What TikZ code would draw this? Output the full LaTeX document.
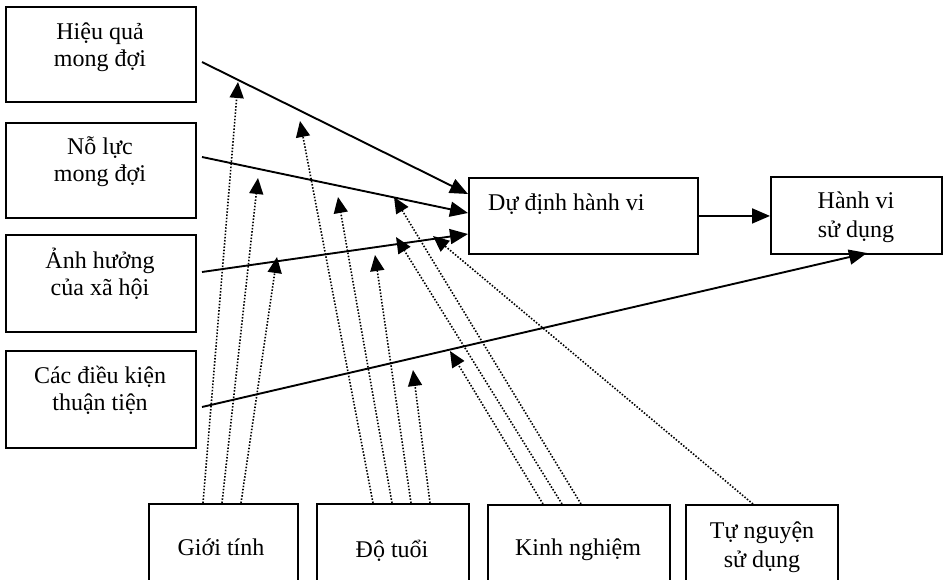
\documentclass[tikz,border=0pt]{standalone}
\usepackage{fontspec}
\setmainfont{Liberation Serif}
\usetikzlibrary{arrows.meta}
\begin{document}
\begin{tikzpicture}[x=1pt,y=-1pt,
  box/.style={draw,line width=1.9pt,inner sep=0pt,anchor=north west},
  lbl/.style={anchor=base,inner sep=0pt,font=\fontsize{24}{28}\selectfont},
  solidarr/.style={line width=1.9pt,-{Triangle[length=18pt,width=15pt]}},
  dotarr/.style={line width=1.6pt,dash pattern=on 1.5pt off 1.7pt,
                 -{Triangle[length=16pt,width=14pt]}}]
\useasboundingbox (0,0) rectangle (944,580);
\clip (0,0) rectangle (944,580);

% left column of determinants
\node[box,minimum width=190pt,minimum height=95pt] (pe) at (5,6) {};
\node[box,minimum width=190pt,minimum height=95pt] (ee) at (5,122) {};
\node[box,minimum width=190pt,minimum height=97pt] (si) at (5,234) {};
\node[box,minimum width=190pt,minimum height=97pt] (fc) at (5,350) {};
\node[lbl] (pe1) at (100,40) {Hiệu quả};
\node[lbl] (pe2) at (100,67) {mong đợi};
\node[lbl] (ee1) at (100,155) {Nỗ lực};
\node[lbl] (ee2) at (100,182) {mong đợi};
\node[lbl] (si1) at (100,268) {Ảnh hưởng};
\node[lbl] (si2) at (100,295) {của xã hội};
\node[lbl] (fc1) at (100,383) {Các điều kiện};
\node[lbl] (fc2) at (100,410) {thuận tiện};

% intention and use behaviour
\node[box,minimum width=229pt,minimum height=76pt] (bi) at (468,177) {};
\node[lbl,anchor=base west] (bit) at (488,210) {Dự định hành vi};
\node[box,minimum width=171pt,minimum height=77pt] (ub) at (770,176) {};
\node[lbl] (ub1) at (856,208) {Hành vi};
\node[lbl] (ub2) at (856,237) {sử dụng};

% moderators along the bottom (open towards the page edge)
\node[box,minimum width=149pt,minimum height=120pt] (gd) at (148,503) {};
\node[box,minimum width=152pt,minimum height=120pt] (ag) at (316,503) {};
\node[box,minimum width=182pt,minimum height=120pt] (ex) at (487,504) {};
\node[box,minimum width=152pt,minimum height=120pt] (vu) at (685,504) {};
\node[lbl] (gdt) at (221,555) {Giới tính};
\node[lbl] (agt) at (392,557) {Độ tuổi};
\node[lbl] (ext) at (578,555) {Kinh nghiệm};
\node[lbl] (vu1) at (762,538) {Tự nguyện};
\node[lbl] (vu2) at (762,567) {sử dụng};

% end points of the main paths
\coordinate (pes) at (202,62);   \coordinate (pee) at (468,194);
\coordinate (ees) at (202,157);  \coordinate (eee) at (468,213);
\coordinate (sis) at (202,272);  \coordinate (sie) at (468,234);
\coordinate (fcs) at (202,407);  \coordinate (fce) at (867,253);

\draw[solidarr] (pes) -- (pee);
\draw[solidarr] (ees) -- (eee);
\draw[solidarr] (sis) -- (sie);
\draw[solidarr] (fcs) -- (fce);
\draw[solidarr] (bi.east) -- (ub.west |- bi.east);

% moderating effects
\coordinate (g1) at (203,503); \coordinate (g1t) at (238,82);
\coordinate (g2) at (222,503); \coordinate (g2t) at (258,178);
\coordinate (g3) at (241,503); \coordinate (g3t) at (277,257);
\coordinate (a1) at (373,503); \coordinate (a1t) at (300,121);
\coordinate (a2) at (392,503); \coordinate (a2t) at (338,197);
\coordinate (a3) at (411,503); \coordinate (a3t) at (375,255);
\coordinate (a4) at (430,503); \coordinate (a4t) at (413,370);
\coordinate (x1) at (543,504); \coordinate (x1t) at (450,351);
\coordinate (x2) at (562,504); \coordinate (x2t) at (396,237);
\coordinate (x3) at (581,504); \coordinate (x3t) at (394,197);
\coordinate (v1) at (753,504); \coordinate (v1t) at (433,236);

\foreach \s/\t in {g1/g1t,g2/g2t,g3/g3t,a1/a1t,a2/a2t,a3/a3t,a4/a4t,
                   x1/x1t,x2/x2t,x3/x3t,v1/v1t}
  \draw[dotarr] (\s) -- (\t);
\end{tikzpicture}
\end{document}
